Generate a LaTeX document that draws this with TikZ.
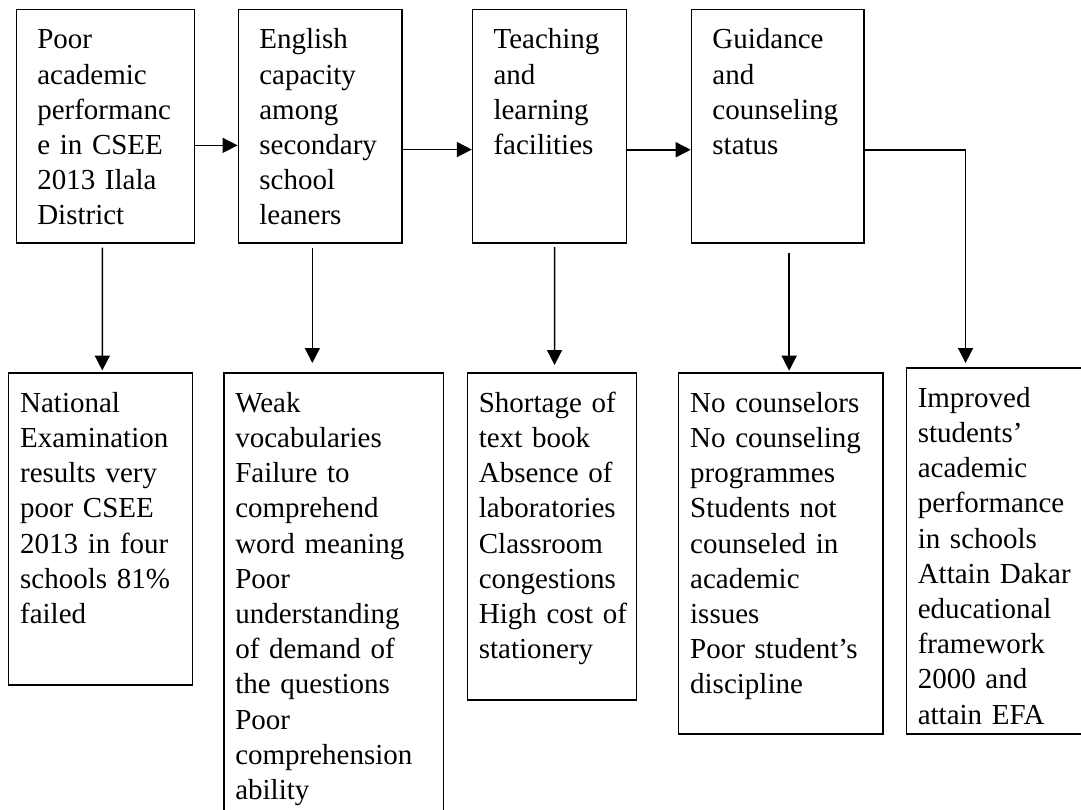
\documentclass[tikz,border=0pt]{standalone}
\usepackage{fontspec}
\setmainfont{Liberation Serif}
\usepackage{tikz}
\usetikzlibrary{arrows.meta}
\tikzstyle{topbox} = [
    rectangle,
    draw=black,
    line width=1.5pt,
    anchor=north west,
    align=left,
    inner xsep=21pt,
    inner ysep=12pt,
    text height=27.5pt,
    font=\fontsize{29}{35.2}\selectfont
]
\tikzstyle{lowbox} = [
    topbox,
    inner xsep=11.5pt
]
\tikzstyle{arrow} = [line width=1.6pt,-{Triangle[length=15pt,width=15pt]}]

\begin{document}
\begin{tikzpicture}[x=1pt, y=-1pt]

\path [use as bounding box, clip] (0,0) rectangle (1081,809);

\node (poor) [topbox, text width=136pt, text depth=181.9pt] at (15.5,8.6)
{Poor\\academic\\performanc\\e in CSEE\\2013 Ilala\\District};

\node (eng) [topbox, text width=121.6pt, text depth=181.9pt] at (237.6,8.6)
{English\\capacity\\among\\secondary\\school\\leaners};

\node (teach) [topbox, text width=111.7pt, text depth=181.9pt] at (471.8,8.6)
{Teaching\\and\\learning\\facilities};

\node (guid) [topbox, text width=130.3pt, text depth=181.9pt] at (690.7,8.6)
{Guidance\\and\\counseling\\status};

\node (natl) [lowbox, text width=160.9pt, text depth=260.8pt] at (7.9,372)
{National\\Examination\\results very\\poor CSEE\\2013 in four\\schools 81\%\\failed};

\node (weak) [lowbox, text width=196.5pt, text depth=418.5pt] at (223,372)
{Weak\\vocabularies\\Failure to\\comprehend\\word meaning\\Poor\\understanding\\of demand of\\the questions\\Poor\\comprehension\\ability};

\node (short) [lowbox, inner xsep=9pt, text width=150.9pt, text depth=275.5pt] at (466.6,372)
{\hspace{2.5pt}Shortage of\\\hspace{2.5pt}text book\\\hspace{2.5pt}Absence of\\\hspace{2.5pt}laboratories\\\hspace{2.5pt}Classroom\\\hspace{2.5pt}congestions\\\hspace{2.5pt}High cost of\\\hspace{2.5pt}stationery};

\node (counsel) [lowbox, text width=181.5pt, text depth=309.5pt] at (677.9,372)
{No counselors\\No counseling\\programmes\\Students not\\counseled in\\academic\\issues\\Poor student’s\\discipline};

\node (impr) [lowbox, text width=167pt, text depth=314.5pt] at (905.5,367)
{Improved\\students’\\academic\\performance\\in schools\\Attain Dakar\\educational\\framework\\2000 and\\attain EFA};

% top row
\draw [arrow] ([yshift=-19.3pt]poor.east) -- ([yshift=-19.3pt]eng.west);
\draw [arrow] ([yshift=-23.5pt]eng.east) -- ([yshift=-23.5pt]teach.west);
\draw [arrow] ([yshift=-23.7pt]teach.east) -- ([yshift=-23.7pt]guid.west);
\draw [arrow, shorten >=4pt] ([yshift=-23.7pt]guid.east) -| ([xshift=-35.7pt]impr.north);

% down to the lower boxes
\draw [arrow, shorten <=4pt, shorten >=1.5pt] ([xshift=-2.9pt]poor.south) -- ([xshift=1.7pt]natl.north);
\draw [arrow, shorten <=4pt, shorten >=9pt] ([xshift=-7.8pt]eng.south) -- ([xshift=-21.15pt]weak.north);
\draw [arrow, shorten <=3.5pt, shorten >=7pt] ([xshift=5.15pt]teach.south) -- ([xshift=2.75pt]short.north);
\draw [arrow, shorten <=9.7pt, shorten >=1.3pt] ([xshift=11.55pt]guid.south) -- ([xshift=8.25pt]counsel.north);

\end{tikzpicture}
\end{document}
